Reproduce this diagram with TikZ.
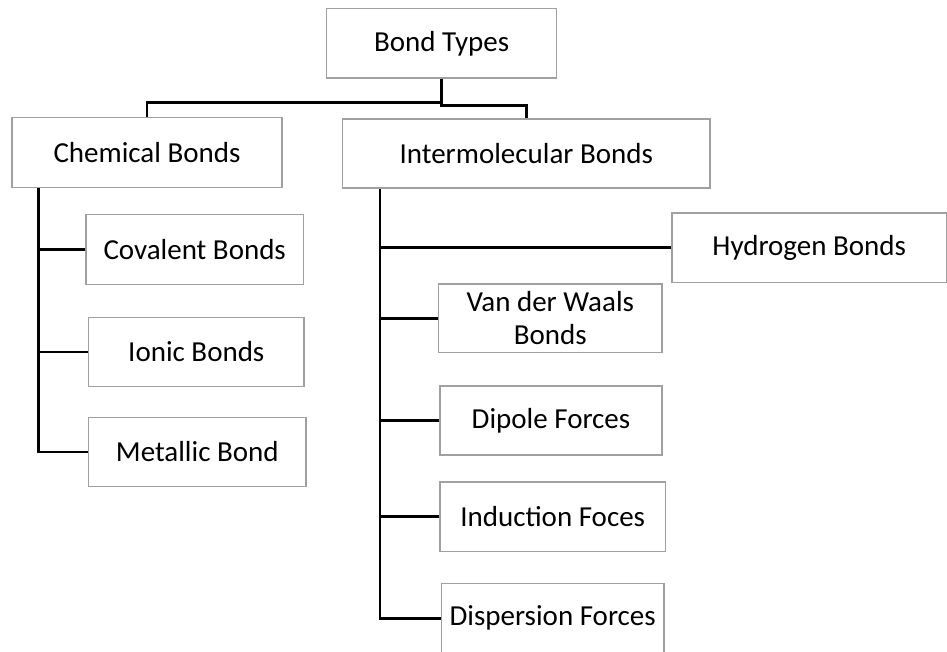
\documentclass[tikz,border=0pt]{standalone}
\usepackage{fontspec}
\setmainfont{Carlito}
\definecolor{boxgray}{RGB}{160,160,160}
\begin{document}
\begin{tikzpicture}[x=1pt,y=-1pt,
  box/.style={draw=boxgray,line width=1.4pt,fill=white,inner sep=0pt,
    font=\fontsize{29}{33}\selectfont,align=center},
  conn/.style={draw=black,line width=2.8pt}]
\useasboundingbox (0,0) rectangle (947,651);
% nodes
\node[box,minimum width=230pt,minimum height=69.3pt] (bt) at (441.7,43.4) {Bond Types};
\node[box,minimum width=270pt,minimum height=70pt] (chem) at (147,152.5) {Chemical Bonds};
\node[box,minimum width=367.3pt,minimum height=69pt] (inter) at (526.3,153.5) {Intermolecular Bonds};
\node[box,minimum width=274.5pt,minimum height=69.6pt] (hyd) at (809.2,247.8) {Hydrogen Bonds};
\node[box,minimum width=217.3pt,minimum height=69.7pt] (cov) at (194.7,249.5) {Covalent Bonds};
\node[box,minimum width=215.3pt,minimum height=69pt] (ion) at (196.3,352) {Ionic Bonds};
\node[box,minimum width=217.3pt,minimum height=68.7pt] (met) at (197.3,452) {Metallic Bond};
\node[box,minimum width=223.3pt,minimum height=68.3pt] (vdw) at (550.3,318.3) {Van der Waals\\Bonds};
\node[box,minimum width=222pt,minimum height=69pt] (dip) at (551,420.3) {Dipole Forces};
\node[box,minimum width=225.3pt,minimum height=69.3pt] (ind) at (552.7,516.7) {Induction Foces};
\node[box,minimum width=222.7pt,minimum height=70pt] (dis) at (552.7,618.3) {Dispersion Forces};
% trunk coordinates
\coordinate (ct) at ([xshift=27pt]chem.south west);
\coordinate (it) at ([xshift=38pt]inter.south west);
% connectors
\draw[conn] (bt.south) -- ++(0,24) -| (chem.north);
\draw[conn] (bt.south) -- ++(0,26.7) -| (inter.north);
\draw[conn] (ct) |- (met.west);
\draw[conn] (cov.west) -- (cov.west -| ct);
\draw[conn] (ion.west) -- (ion.west -| ct);
\draw[conn] (it) |- (dis.west);
\draw[conn] (hyd.west) -- (hyd.west -| it);
\draw[conn] (vdw.west) -- (vdw.west -| it);
\draw[conn] (dip.west) -- (dip.west -| it);
\draw[conn] (ind.west) -- (ind.west -| it);
\end{tikzpicture}
\end{document}
